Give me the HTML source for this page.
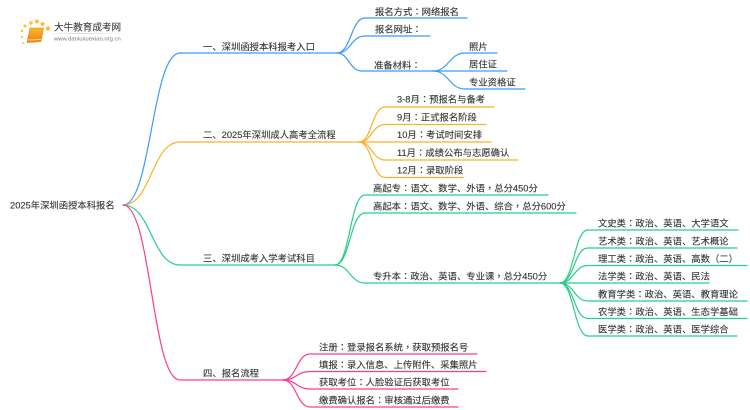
<!DOCTYPE html>
<html><head><meta charset="utf-8"><style>
html,body{margin:0;padding:0;background:#fff;width:750px;height:410px;overflow:hidden}
svg{display:block}
text{font-family:"Liberation Sans","Noto Sans CJK SC",sans-serif;font-size:9.33px;fill:#333;stroke:#333;stroke-width:.12}
.c{font-family:"Noto Sans CJK TC","Noto Sans CJK SC",sans-serif}
path{fill:none;stroke-width:1.2;stroke-linecap:round}
.b path{stroke:#3a9bfb}.o path{stroke:#fbb02d}.g path{stroke:#25cf88}.p path{stroke:#fb3c91}
</style></head><body>
<svg width="750" height="410" viewBox="0 0 750 410" xmlns="http://www.w3.org/2000/svg">
<defs><linearGradient id="lg" x1="0" x2="1" y1="0" y2="0"><stop offset="0" stop-color="#ddd" stop-opacity="0"/><stop offset=".4" stop-color="#ccc"/><stop offset="1" stop-color="#ddd" stop-opacity="0"/></linearGradient>
<linearGradient id="bk" x1="0" x2="0" y1="0" y2="1"><stop offset="0" stop-color="#fbb62e"/><stop offset="1" stop-color="#ee7f10"/></linearGradient></defs>

<!-- logo -->
<g fill="#fbc033" stroke="none">
<circle cx="25" cy="26" r="1.500"/><circle cx="31" cy="23" r="1.800"/><circle cx="37" cy="21.500" r="2"/><circle cx="42.500" cy="24" r="2"/><circle cx="48" cy="28.500" r="2.200"/><circle cx="22" cy="31" r="1.200"/><circle cx="22" cy="37" r="1.100"/><circle cx="23.500" cy="43" r="1"/>
<path d="M30 28 L43.500 28 L41 41.500 Q34 42.500 27 42.500 Z" style="fill:url(#bk);stroke:#e87f12;stroke-width:.6"/>
<path d="M28.500 40 L40.500 39.500" style="stroke:#fde2b0;stroke-width:1"/>
</g>
<rect x="45" y="33" width="88" height="0.8" fill="url(#lg)"/>
<text x="54" y="30.500" style="font-size:9.6px;fill:#444;stroke:#444">大牛教育成考网</text>
<text x="54" y="40.500" style="font-size:5.9px;fill:#777;stroke:none">www.daniuxuexiao.org.cn</text>

<!-- blue -->
<g class="b">
<path d="M123 205C151.500 205 151.500 53 180 53L337 53"/>
<path d="M337 53C351 53 351 18 365 18L467 18"/>
<path d="M337 53C351 53 351 36 365 36L430 36"/>
<path d="M337 53C349 53 349 71 362 71L433 71"/>
<path d="M433 71C449 71 449 53 465 53L497 53"/>
<path d="M433 71C449 71 449 71 465 71L507 71"/>
<path d="M433 71C449 71 449 89 465 89L525 89"/>
</g>
<!-- orange -->
<g class="o">
<path d="M123 205C151.500 205 151.500 142 180 142L359 142"/>
<path d="M359 142C372 142 372 107 385 107L494 107"/>
<path d="M359 142C372 142 372 124.500 385 124.500L486 124.500"/>
<path d="M359 142C372 142 372 142 385 142L491 142"/>
<path d="M359 142C372 142 372 160 385 160L518 160"/>
<path d="M359 142C372 142 372 177.500 385 177.500L463 177.500"/>
</g>
<!-- green -->
<g class="g">
<path d="M123 205C151.500 205 151.500 265 180 265L335 265"/>
<path d="M335 265C350 265 350 195 365 195L548 195"/>
<path d="M335 265C350 265 350 213 365 213L576 213"/>
<path d="M335 265C350 265 350 283 365 283L560 283"/>
<path d="M560 283C574 283 574 230 588 230L738 230"/>
<path d="M560 283C574 283 574 248 588 248L737 248"/>
<path d="M560 283C574 283 574 265.500 588 265.500L747 265.500"/>
<path d="M560 283C574 283 574 283 588 283L709 283"/>
<path d="M560 283C574 283 574 301 588 301L747 301"/>
<path d="M560 283C574 283 574 318.500 588 318.500L747 318.500"/>
<path d="M560 283C574 283 574 336 588 336L737 336"/>
</g>
<!-- pink -->
<g class="p">
<path d="M123 205C151.500 205 151.500 380 180 380L283 380"/>
<path d="M283 380C296.500 380 296.500 354 310 354L477 354"/>
<path d="M283 380C296.500 380 296.500 371.500 310 371.500L486 371.500"/>
<path d="M283 380C296.500 380 296.500 389 310 389L458 389"/>
<path d="M283 380C296.500 380 296.500 407 310 407L458 407"/>
</g>

<!-- labels -->
<text x="10" y="208.500">2025年深圳函授本科报名</text>
<text x="203" y="50">一、深圳函授本科报考入口</text>
<text x="203" y="138">二、2025年深圳成人高考全流程</text>
<text x="203" y="261.500">三、深圳成考入学考试科目</text>
<text x="203" y="376.500">四、报名流程</text>

<text x="375" y="15">报名方式<tspan class="c">：</tspan>网络报名</text>
<text x="375" y="32.500">报名网址<tspan class="c">：</tspan></text>
<text x="374" y="68.500">准备材料<tspan class="c">：</tspan></text>
<text x="469" y="50">照片</text>
<text x="469" y="67.500">居住证</text>
<text x="469" y="85.500">专业资格证</text>

<text x="397" y="102.500">3-8月<tspan class="c">：</tspan>预报名与备考</text>
<text x="397" y="120.500">9月<tspan class="c">：</tspan>正式报名阶段</text>
<text x="397" y="138">10月<tspan class="c">：</tspan>考试时间安排</text>
<text x="397" y="156">11月<tspan class="c">：</tspan>成绩公布与志愿确认</text>
<text x="397" y="173.500">12月<tspan class="c">：</tspan>录取阶段</text>

<text x="373" y="191.500">高起专<tspan class="c">：</tspan>语文、数学、外语<tspan class="c">，</tspan>总分450分</text>
<text x="373" y="209.500">高起本<tspan class="c">：</tspan>语文、数学、外语、综合<tspan class="c">，</tspan>总分600分</text>
<text x="373" y="279.500">专升本<tspan class="c">：</tspan>政治、英语、专业课<tspan class="c">，</tspan>总分450分</text>

<text x="598" y="226.500">文史类<tspan class="c">：</tspan>政治、英语、大学语文</text>
<text x="598" y="244.500">艺术类<tspan class="c">：</tspan>政治、英语、艺术概论</text>
<text x="598" y="262">理工类<tspan class="c">：</tspan>政治、英语、高数<tspan class="c">（</tspan>二<tspan class="c">）</tspan></text>
<text x="598" y="279.500">法学类<tspan class="c">：</tspan>政治、英语、民法</text>
<text x="598" y="297.500">教育学类<tspan class="c">：</tspan>政治、英语、教育理论</text>
<text x="598" y="315">农学类<tspan class="c">：</tspan>政治、英语、生态学基础</text>
<text x="598" y="332.500">医学类<tspan class="c">：</tspan>政治、英语、医学综合</text>

<text x="319" y="350.500">注册<tspan class="c">：</tspan>登录报名系统<tspan class="c">，</tspan>获取预报名号</text>
<text x="319" y="368">填报<tspan class="c">：</tspan>录入信息、上传附件、采集照片</text>
<text x="319" y="385.500">获取考位<tspan class="c">：</tspan>人脸验证后获取考位</text>
<text x="319" y="403.500">缴费确认报名<tspan class="c">：</tspan>审核通过后缴费</text>
</svg>
</body></html>
